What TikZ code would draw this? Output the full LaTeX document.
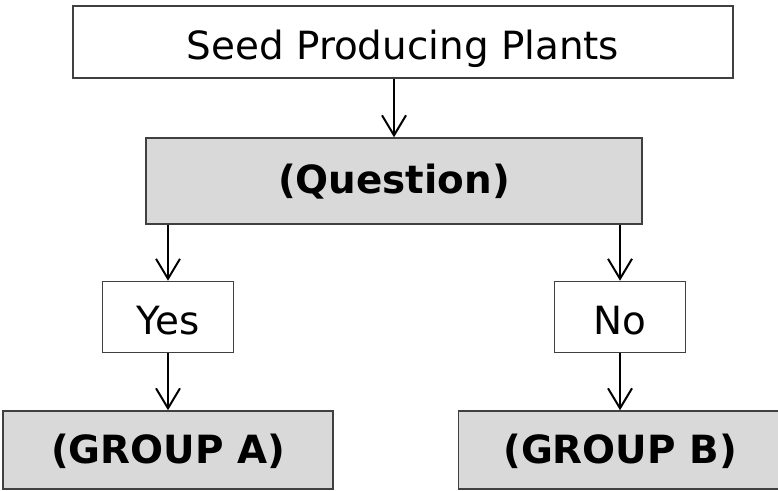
\documentclass[tikz,border=0pt]{standalone}
\usepackage{fontspec}
\setmainfont{DejaVu Sans}
\usetikzlibrary{trees}
\usetikzlibrary{arrows.meta}

\begin{document}
\begin{tikzpicture}
[x=1bp,y=1bp,%
  every node/.style={shape=rectangle,draw=black!75,line width=1.5bp,inner sep=0pt,%
    text depth=0pt,font=\fontsize{39}{47}\selectfont},%
  plainbox/.style={fill=white,text height=36bp},%
  greybox/.style={fill=black!15,text height=26bp,font=\fontsize{39}{47}\selectfont\bfseries},%
  edge from parent/.style={draw,black,line width=2bp,-{Straight Barb[length=20bp,width=24bp]}},%
  edge from parent path={(\tikzchildnode.north |- \tikzparentnode.south) -- (\tikzchildnode.north)}]
\useasboundingbox (0,0) rectangle (778,491);
\node[plainbox,minimum width=660bp,minimum height=72bp] (plants) at (403,449) {Seed Producing Plants}
  [level distance=139bp]
  child[xshift=-9bp] {node[greybox,minimum width=496bp,minimum height=86bp] (question) {(Question)}
    [sibling distance=452bp,level distance=136bp]
    child {node[plainbox,minimum width=131bp,minimum height=71bp] (yes) {Yes}
      [level distance=133bp]
      child {node[greybox,minimum width=330bp,minimum height=78bp] (groupA) {(GROUP A)}}
    }
    child {node[plainbox,minimum width=131bp,minimum height=71bp] (no) {No}
      [level distance=133bp]
      child {node[greybox,minimum width=323bp,minimum height=78bp] (groupB) {(GROUP B)}}
    }
  };
\end{tikzpicture}
\end{document}
